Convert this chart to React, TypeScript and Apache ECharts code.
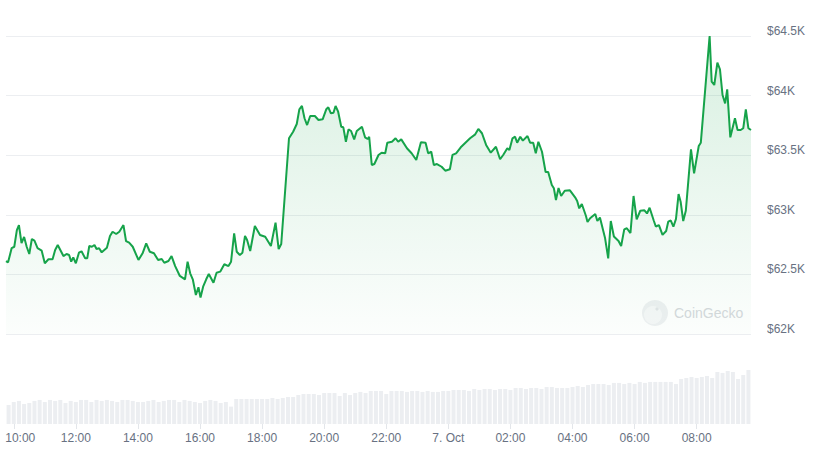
import React, { useEffect, useRef } from 'react';
import * as echarts from 'echarts';

// Axis start: 6 Oct 09:45 (minutes from midnight); x values are minutes from start
const START_CLOCK = 585;
const TOTAL_MINUTES = 1440;
const xTickMinutes = [15, 135, 255, 375, 495, 615, 735, 855, 975, 1095, 1215, 1335];

const priceMinutes = [0,4,11,16,21,25,30,35,40,45,50,55,61,69,75,82,90,95,100,111,117,122,126,130,135,141,146,153,157,161,166,171,175,180,185,195,201,206,213,219,227,232,238,245,256,264,271,278,286,294,301,306,314,320,327,336,346,351,356,361,367,372,376,381,387,392,401,407,414,422,430,435,441,446,452,457,462,466,472,481,491,501,512,521,527,532,547,555,562,567,572,577,582,588,597,604,612,619,623,628,633,637,642,648,652,657,662,667,673,678,688,694,699,702,707,712,720,726,733,737,746,753,758,764,775,784,793,802,811,816,822,827,833,842,849,858,863,870,879,887,897,907,913,920,928,937,947,955,961,969,973,979,984,988,994,999,1008,1013,1019,1024,1029,1036,1043,1048,1055,1059,1063,1068,1073,1080,1090,1100,1104,1108,1113,1121,1124,1129,1139,1143,1148,1158,1164,1169,1175,1184,1189,1195,1200,1207,1213,1219,1226,1234,1239,1244,1252,1256,1262,1269,1276,1280,1285,1290,1295,1300,1304,1309,1314,1324,1330,1339,1343,1360,1364,1369,1375,1380,1385,1390,1394,1400,1409,1414,1420,1425,1430,1435,1440];

const priceValues = [62612,62601,62721,62732,62872,62914,62763,62814,62732,62671,62797,62783,62721,62699,62593,62627,62627,62705,62747,62654,62671,62663,62607,62643,62593,62682,62694,62635,62635,62738,62732,62747,62713,62719,62685,62724,62822,62858,62839,62858,62914,62780,62766,62732,62621,62677,62761,62690,62677,62621,62629,62598,62612,62654,62570,62487,62459,62607,62509,62459,62327,62392,62305,62397,62459,62503,62430,62514,62523,62585,62570,62607,62845,62690,62663,62682,62822,62789,62696,62906,62831,62816,62738,62934,62713,62755,63642,63697,63762,63885,63913,63810,63753,63829,63829,63795,63801,63885,63902,63851,63856,63913,63865,63739,63734,63613,63717,63703,63633,63703,63739,63650,63636,63655,63418,63426,63502,63521,63516,63605,63613,63642,63613,63633,63558,63516,63460,63608,63605,63516,63529,63418,63426,63403,63370,63382,63502,63516,63566,63600,63642,63675,63720,63684,63586,63521,63571,63466,63502,63558,63544,63642,63655,63605,63655,63622,63661,63605,63605,63516,63613,63529,63359,63359,63250,63222,63124,63225,63158,63202,63205,63147,63116,63054,63091,62990,62940,62971,63007,62948,62977,62803,62635,62948,62818,62780,62738,62878,62887,62847,63158,62962,63034,63038,63011,63059,62952,62902,62914,62831,62864,62942,62952,62900,62966,63174,63110,62948,63034,63549,63348,63577,63605,64500,64117,64089,64276,64221,64005,63935,64053,63650,63810,63711,63711,63726,63885,63726,63711];

// 24h rolling volume (billions USD), one bar per 10 minutes
const volumeValues = [
  15.4,17.8,18.7,16.2,17.0,18.7,19.5,17.8,19.5,18.7,
  19.5,17.0,18.7,17.8,19.5,19.5,17.8,19.5,18.7,19.5,
  18.7,17.8,19.5,19.5,18.7,17.8,17.8,18.7,19.5,17.8,
  18.7,19.5,19.5,17.8,19.5,18.7,17.8,17.0,18.7,19.5,
  18.7,17.0,17.8,14.1,20.3,20.3,20.3,20.3,20.3,20.3,
  20.3,21.1,20.3,21.1,21.9,21.9,23.5,24.3,24.3,24.3,
  23.5,25.1,25.1,25.1,22.7,25.1,23.5,25.1,26.0,25.1,
  26.8,26.8,26.8,24.3,26.8,26.8,26.8,26.0,26.8,
  26.8,26.0,26.8,26.0,26.0,26.8,26.8,27.6,27.6,27.6,
  26.8,28.4,27.6,28.4,28.4,27.6,28.4,28.4,27.6,29.2,
  29.2,28.4,29.2,29.2,28.4,30.0,30.0,29.2,29.2,29.2,
  30.0,30.8,30.0,31.6,32.4,32.4,32.4,31.6,33.3,33.3,
  32.4,33.3,32.4,34.1,33.3,34.1,34.1,34.1,34.1,34.1,
  32.4,36.5,37.3,38.1,37.3,38.1,38.9,37.3,42.2,41.4,
  43.0,42.2,36.5,39.7,43.8
];
const volumeMinutes = volumeValues.map((_, i) => 5 + i * 10);

const yMin = 62000;
const yMax = 64500;
const yStep = 500;

const LABEL_COLOR = '#687182';
const GRID_COLOR = '#eceef1';
const LINE_COLOR = '#16a34a';
const FONT = '"Liberation Sans", Arial, sans-serif';

function clockLabel(v: number): string {
  const m = (START_CLOCK + v) % 1440;
  if (m === 0) return '7. Oct';
  const h = Math.floor(m / 60);
  const mm = m % 60;
  return `${String(h).padStart(2, '0')}:${String(mm).padStart(2, '0')}`;
}

export default function App() {
  const ref = useRef<HTMLDivElement>(null);

  useEffect(() => {
    if (!ref.current) return;
    const chart = echarts.init(ref.current, undefined, { renderer: 'svg' });
    const n = Math.min(priceMinutes.length, priceValues.length);
    const priceData = [] as [number, number][];
    for (let i = 0; i < n; i++) priceData.push([priceMinutes[i], priceValues[i]]);
    const volData = volumeMinutes.map((t, i) => [t, volumeValues[i]]);

    chart.setOption({
      animation: false,
      grid: [
        { left: 6, right: 62, top: 36, height: 298 },
        { left: 6, right: 62, top: 350, height: 74 },
      ],
      xAxis: [
        { type: 'value', gridIndex: 0, min: 0, max: TOTAL_MINUTES, show: false },
        {
          type: 'value', gridIndex: 1, min: 0, max: TOTAL_MINUTES,
          splitLine: { show: false },
          axisLine: { show: false },
          axisTick: { show: true, customValues: xTickMinutes, length: 5, lineStyle: { color: '#e3e6ea' } },
          axisLabel: {
            show: true,
            customValues: xTickMinutes,
            margin: 8,
            color: LABEL_COLOR,
            fontSize: 12,
            fontFamily: FONT,
            formatter: (v: number) => (v === xTickMinutes[0] ? '{first|' + clockLabel(v) + '}' : clockLabel(v)),
            rich: {
              first: { padding: [0, 0, 0, 13], color: LABEL_COLOR, fontSize: 12, fontFamily: FONT },
            },
          },
        },
      ],
      yAxis: [
        {
          type: 'value', gridIndex: 0, position: 'right', min: yMin, max: yMax, interval: yStep,
          axisLine: { show: false },
          axisTick: { show: false },
          splitLine: { show: true, lineStyle: { color: GRID_COLOR, width: 1 } },
          axisLabel: {
            margin: 16,
            color: LABEL_COLOR,
            fontSize: 12,
            fontFamily: FONT,
            verticalAlign: 'bottom',
            lineHeight: 10,
            formatter: (v: number) => '$' + v / 1000 + 'K',
          },
        },
        { type: 'value', gridIndex: 1, min: 0, max: 60, show: false },
      ],
      graphic: [
        {
          type: 'group',
          z: 1,
          children: [
            { type: 'circle', shape: { cx: 655, cy: 313, r: 13 }, style: { fill: '#eef0f2' } },
            { type: 'circle', shape: { cx: 653, cy: 315, r: 9 }, style: { fill: '#f6f7f8' } },
            { type: 'circle', shape: { cx: 657, cy: 309, r: 1.6 }, style: { fill: '#e2e5e8' } },
            {
              type: 'text',
              style: {
                text: 'CoinGecko', x: 674, y: 313, fill: '#d6d9dd',
                font: '500 14px "Liberation Sans", Arial, sans-serif',
                textVerticalAlign: 'middle', verticalAlign: 'middle',
              },
            },
          ],
        },
      ],
      series: [
        {
          type: 'line',
          xAxisIndex: 0,
          yAxisIndex: 0,
          data: priceData,
          showSymbol: false,
          symbol: 'none',
          silent: true,
          z: 3,
          lineStyle: { color: LINE_COLOR, width: 2 },
          areaStyle: {
            color: new echarts.graphic.LinearGradient(0, 0, 0, 1, [
              { offset: 0, color: 'rgba(22,163,74,0.24)' },
              { offset: 1, color: 'rgba(22,163,74,0.02)' },
            ]),
          },
        },
        {
          type: 'bar',
          xAxisIndex: 1,
          yAxisIndex: 1,
          data: volData,
          barWidth: 4,
          silent: true,
          itemStyle: { color: '#eceef1' },
        },
      ],
    });
    return () => chart.dispose();
  }, []);

  return (
    <div
      ref={ref}
      style={{ position: 'absolute', left: 0, top: 0, width: 813, height: 450, background: '#ffffff' }}
    />
  );
}
